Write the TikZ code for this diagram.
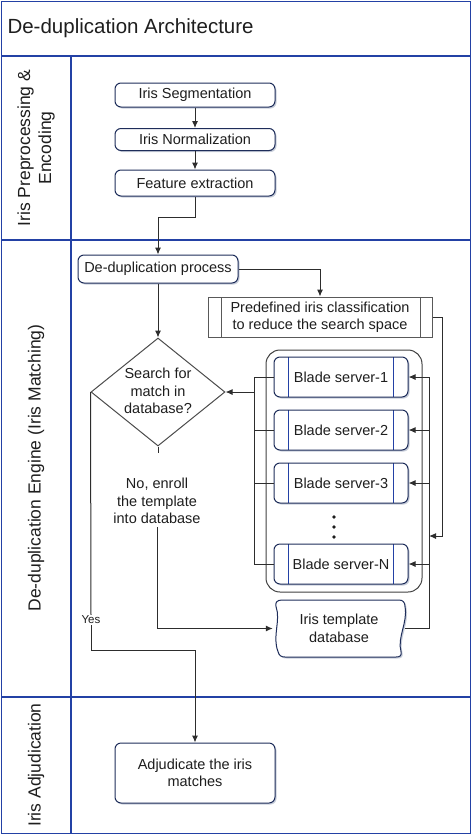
\documentclass[tikz,border=0pt]{standalone}
\usepackage{fontspec}
\setmainfont{Liberation Sans}
\usetikzlibrary{arrows.meta,shapes.geometric,shadows}

\definecolor{laneblue}{RGB}{35,65,165}
\definecolor{boxnavy}{RGB}{30,45,90}
\definecolor{wire}{RGB}{45,45,45}
\definecolor{shade}{RGB}{200,206,218}
\definecolor{inkgray}{RGB}{30,30,30}

\newcommand\diagfont{\fontsize{14.5}{17.5}\selectfont}
\newcommand\archtitle{\fontsize{20.5}{24}\selectfont}
\newcommand\lanelbl{\fontsize{17.5}{21}\selectfont}
\newcommand\smalllbl{\fontsize{11.5}{13}\selectfont}

\begin{document}
\begin{tikzpicture}[x=1pt,y=-1pt, %De-duplication architecture
    lane/.style={draw=laneblue,line width=1.4pt},
    wire/.style={draw=wire,line width=1pt},
    arr/.style={-{Latex[length=7pt,width=6pt]}},
    txt/.style={font=\diagfont,text=inkgray,align=center},
    proc/.style={txt,draw=boxnavy,line width=1pt,fill=white,rounded corners=6pt,
        minimum width=160pt,inner sep=2pt,
        drop shadow={shadow xshift=1.5pt,shadow yshift=-1.5pt,fill=shade,opacity=1}},
    predef/.style={txt,draw=black!65,line width=1pt,fill=white,minimum width=224pt,
        minimum height=40pt,inner sep=2pt,
        path picture={\draw[black!65,line width=1pt]
            ([xshift=13pt]path picture bounding box.north west) -- ([xshift=13pt]path picture bounding box.south west)
            ([xshift=-12pt]path picture bounding box.north east) -- ([xshift=-12pt]path picture bounding box.south east);}},
    blade/.style={proc,minimum width=134pt,minimum height=40pt,
        path picture={\draw[laneblue,line width=1pt]
            ([xshift=14pt]path picture bounding box.north west) -- ([xshift=14pt]path picture bounding box.south west)
            ([xshift=-15pt]path picture bounding box.north east) -- ([xshift=-15pt]path picture bounding box.south east);}},
    decide/.style={diamond,draw=black!70,line width=1pt,fill=white,inner sep=0pt,
        minimum width=134pt,minimum height=108pt},
    grp/.style={draw=black!75,line width=1pt,rounded corners=14pt,
        minimum width=156pt,minimum height=242pt}]

    \useasboundingbox (0,0) rectangle (472,836);

    % lanes
    \draw[lane] (1.5,1.5) rectangle (470.5,833.5);
    \draw[lane] (1.5,56) -- (470.5,56);
    \draw[lane] (1.5,240) -- (470.5,240);
    \draw[lane] (1.5,697) -- (470.5,697);
    \draw[lane] (71,56) -- (71,833.5);

    \node[anchor=west,font=\archtitle,text=inkgray] (title) at (4,28) {De-duplication Architecture};
    \node[rotate=90,font=\lanelbl,text=inkgray,align=center] (lane1) at (36,148) {Iris Preprocessing \&\\Encoding};
    \node[rotate=90,font=\lanelbl,text=inkgray] (lane2) at (36,468) {De-duplication Engine (Iris Matching)};
    \node[rotate=90,font=\lanelbl,text=inkgray] (lane3) at (36,765) {Iris Adjudication};

    % boxes
    \node[proc,minimum height=24pt] (seg) at (195,95) {Iris Segmentation};
    \node[proc,minimum height=22pt] (norm) at (195,139.5) {Iris Normalization};
    \node[proc,minimum height=26pt] (feat) at (195,183) {Feature extraction};
    \node[proc,minimum height=28pt] (dedup) at (158,269) {De-duplication process};
    \node[predef] (pre) at (320,317) {Predefined iris classification\\to reduce the search space};

    \node[decide] (search) at (158,392) {};
    \node[txt] (searchtxt) at (158,391) {Search for\\match in\\database?};

    \node[grp] (bladegrp) at (344,471) {};
    \foreach \n/\y in {1/377,2/430,3/483,N/564}
        \node[blade] (b\n) at (341,\y) {Blade server-\n};
    \foreach \y in {517,527,537}
        \fill[inkgray] (334,\y) circle (1.8pt);

    \coordinate (dbc) at (339,628.5);
    \begin{scope}[shift={(dbc)}]
        \draw[draw=boxnavy,line width=1pt,fill=white,
            drop shadow={shadow xshift=1.5pt,shadow yshift=-1.5pt,fill=shade,opacity=1}]
            (-57,-28.5) -- (60,-28.5)
            .. controls (64,-28.5) and (66,-26) .. (66,-22)
            .. controls (69,-6) and (58,9) .. (62,23)
            .. controls (63,27) and (61,28.5) .. (57,28.5)
            -- (-54,28.5)
            .. controls (-58,28.5) and (-60,27) .. (-61,23)
            .. controls (-67,8) and (-58,-8) .. (-63,-22)
            .. controls (-64,-26) and (-62,-28.5) .. (-57,-28.5) -- cycle;
    \end{scope}
    \node[txt,minimum width=132pt,minimum height=57pt] (db) at (dbc) {Iris template\\database};

    \node[proc,minimum height=60pt] (adj) at (195,773) {Adjudicate the iris\\matches};

    \node[txt] (nolbl) at (157,501) {No, enroll\\the template\\into database};
    \node[font=\smalllbl,text=inkgray,fill=white,inner sep=1pt] (yeslbl) at (91,620) {Yes};

    \coordinate (fbend) at (195,217);
    \coordinate (nostub) at (158,453);
    \coordinate (yesbend) at (91,650);
    \coordinate (lbus) at (254,392);
    \coordinate (rbus) at (429,377);
    \coordinate (prebend) at (442,536);
    \coordinate (busin) at (429,536);

    % connectors
    \draw[wire,arr] (seg) -- (norm);
    \draw[wire,arr] (norm) -- (feat);
    \draw[wire,arr] (feat.south) -- (fbend) -| (dedup.north);
    \draw[wire,arr] (dedup.east) -| (pre.north);
    \draw[wire,arr] (dedup.south) -- (search.north);
    \draw[wire] (search.south) -- (nostub);
    \draw[wire,arr] (nolbl.south) |- (db.west);
    \draw[wire] (search.west) -- (yeslbl.north);
    \draw[wire,arr] (yeslbl.south) -- (yesbend) -| (adj.north);
    \draw[wire,arr] (pre.east) -| (prebend) -- (busin);
    \draw[wire] (db.east) -| (rbus);
    \foreach \n in {1,2,3,N} {
        \draw[wire,arr] (rbus |- b\n.east) -- (b\n.east);
        \draw[wire] (b\n.west) -- (lbus |- b\n.west);
    }
    \draw[wire] (lbus |- b1.west) -- (lbus |- bN.west);
    \draw[wire,arr] (lbus) -- (search.east);
\end{tikzpicture}
\end{document}
